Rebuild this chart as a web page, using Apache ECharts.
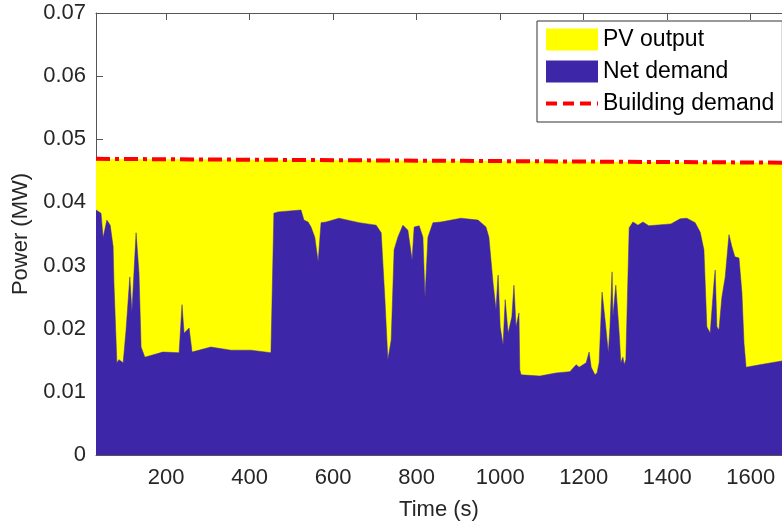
<!DOCTYPE html>
<html>
<head>
<meta charset="utf-8">
<script src="https://cdn.jsdelivr.net/npm/echarts@6/dist/echarts.min.js"></script>
<style>
html,body{margin:0;padding:0;background:#fff;}
#main{width:782px;height:527px;}
</style>
</head>
<body>
<div id="main"></div>
<script>
// time (s) and net demand (MW)
var timeS = [32,44,49,58,66,73,75,82,87,97,104,113,118,128,135,140,149,192,231,238,243,255,262,307,355,403,451,
	458,468,523,530,540,547,556,564,571,583,614,662,703,715,724,731,739,746,755,767,779,789,794,806,815,820,827,839,858,
	906,947,966,973,983,990,995,1000,1007,1012,1019,1028,1033,1038,1045,1047,1050,1095,1134,1167,1182,1189,1206,1213,1218,
	1227,1232,1237,1244,1252,1259,1263,1268,1270,1277,1285,1289,1294,1297,1301,1309,1318,1330,1342,1356,1409,1431,1447,
	1467,1479,1488,1495,1503,1512,1515,1519,1524,1531,1539,1548,1555,1562,1572,1579,1584,1589,1622,1675];
var netDemand = [0.0388,0.0383,0.0344,0.0372,0.0364,0.0330,0.0272,0.0146,0.0151,0.0146,0.0198,0.0282,0.0227,0.0352,0.0288,0.0171,0.0155,0.0163,0.0162,0.0238,0.0193,0.0201,0.0163,0.0171,0.0166,0.0166,0.0162,
	0.0383,0.0385,0.0388,0.0372,0.0369,0.0361,0.0345,0.0306,0.0368,0.0369,0.0375,0.0368,0.0364,0.0352,0.0246,0.0151,0.0182,0.0325,0.0345,0.0364,0.0356,0.0309,0.0361,0.0363,0.0345,0.0250,0.0345,0.0368,0.0369,
	0.0375,0.0372,0.0361,0.0345,0.0272,0.0230,0.0285,0.0203,0.0174,0.0246,0.0193,0.0219,0.0269,0.0203,0.0225,0.0135,0.0127,0.0125,0.0130,0.0132,0.0143,0.0139,0.0146,0.0163,0.0139,
	0.0127,0.0130,0.0146,0.0258,0.0209,0.0162,0.0203,0.0290,0.0219,0.0269,0.0193,0.0146,0.0155,0.0143,0.0151,0.0360,0.0369,0.0364,0.0369,0.0363,0.0366,0.0374,0.0375,
	0.0368,0.0353,0.0325,0.0203,0.0193,0.0272,0.0293,0.0203,0.0198,0.0250,0.0282,0.0349,0.0330,0.0314,0.0312,0.0257,0.0177,0.0139,0.0143,0.0149];
var buildingTime = [32, 1675];
var buildingDemand = [0.0469, 0.0463];
var xTicks = [200, 400, 600, 800, 1000, 1200, 1400, 1600];

var pair = function (xs, ys) {
	return xs.map(function (x, i) { return [x, ys[i]]; });
};
var font = 'Liberation Sans, Arial, sans-serif';
var axisColor = '#555';
var textColor = '#262626';

var option = {
	animation: false,
	grid: { left: 96, right: 0, top: 13, bottom: 72 },
	legend: {
		orient: 'vertical',
		left: 537,
		top: 21,
		padding: [7, 8, 7, 7],
		itemWidth: 52,
		itemHeight: 22,
		itemGap: 9,
		borderColor: '#333',
		borderWidth: 1,
		backgroundColor: '#fff',
		textStyle: { fontFamily: font, fontSize: 23, color: '#000' },
		data: [
			{ name: 'PV output', icon: 'rect' },
			{ name: 'Net demand', icon: 'rect' },
			{ name: 'Building demand', itemStyle: { opacity: 0 }, lineStyle: { width: 4, type: [11, 6] } }
		]
	},
	xAxis: [{
		type: 'value',
		min: 32,
		max: 1675,
		name: 'Time (s)',
		nameLocation: 'middle',
		nameGap: 44,
		nameTextStyle: { fontFamily: font, fontSize: 22, color: textColor },
		axisLine: { lineStyle: { color: axisColor } },
		axisTick: { inside: true, length: 7, customValues: xTicks, lineStyle: { color: axisColor } },
		axisLabel: {
			customValues: xTicks, margin: 12, fontFamily: font, fontSize: 22, color: textColor,
			formatter: function (v) { return String(v); }
		},
		splitLine: { show: false }
	}, {
		type: 'value',
		position: 'top',
		min: 32,
		max: 1675,
		axisLine: { show: true, lineStyle: { color: axisColor } },
		axisTick: { show: true, inside: true, length: 7, customValues: xTicks, lineStyle: { color: axisColor } },
		axisLabel: { show: false },
		splitLine: { show: false }
	}],
	yAxis: {
		type: 'value',
		min: 0,
		max: 0.07,
		interval: 0.01,
		name: 'Power (MW)',
		nameLocation: 'middle',
		nameGap: 62,
		nameTextStyle: { fontFamily: font, fontSize: 22, color: textColor },
		axisLine: { show: true, lineStyle: { color: axisColor } },
		axisTick: { show: true, inside: true, length: 7, lineStyle: { color: axisColor } },
		axisLabel: {
			margin: 10, fontFamily: font, fontSize: 22, color: textColor,
			formatter: function (v) { return v === 0 ? '0' : v.toFixed(2); }
		},
		splitLine: { show: false }
	},
	series: [{
		// yellow fill between net demand and building demand
		name: 'PV output',
		type: 'line',
		data: pair(buildingTime, buildingDemand),
		symbol: 'none',
		lineStyle: { width: 0 },
		itemStyle: { color: '#FFFF00' },
		areaStyle: { color: '#FFFF00', opacity: 1 },
		z: 2
	}, {
		name: 'Net demand',
		type: 'line',
		data: pair(timeS, netDemand),
		symbol: 'none',
		lineStyle: { width: 0.5, color: '#3E26A8' },
		itemStyle: { color: '#3E26A8' },
		areaStyle: { color: '#3E26A8', opacity: 1 },
		z: 3
	}, {
		name: 'Building demand',
		type: 'line',
		data: pair(buildingTime, buildingDemand),
		symbol: 'none',
		lineStyle: { width: 4, color: '#FF0000', type: [14, 5, 4, 5] },
		itemStyle: { color: '#FF0000' },
		z: 4
	}]
};
var myChart = echarts.init(document.getElementById('main'));
myChart.setOption(option);
</script>
</body>
</html>
